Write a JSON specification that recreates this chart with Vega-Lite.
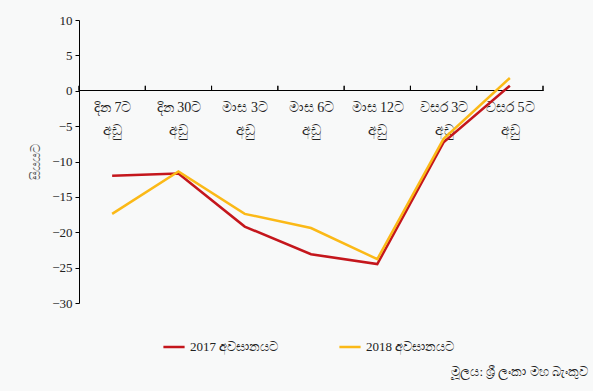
{
  "$schema": "https://vega.github.io/schema/vega-lite/v6.json",
  "width": 464,
  "height": 283,
  "autosize": {"type": "none"},
  "padding": {"left": 79, "top": 20, "right": 50, "bottom": 88},
  "background": "#f8f9f9",
  "config": {
    "view": {"stroke": null},
    "axisY": {
      "titleFont": "Liberation Serif",
      "titleFontSize": 13,
      "titleFontWeight": "normal",
      "titleColor": "#555555",
      "titlePadding": 9,
      "labelOverlap": false,
      "grid": false,
      "tickSize": 4,
      "tickColor": "#000000",
      "domainColor": "#000000",
      "labelFont": "Liberation Serif",
      "labelFontSize": 13,
      "labelColor": "#222222",
      "labelPadding": 3
    }
  },
  "data": {
    "values": [
      {"term": "දින 7ට අඩු", "series": "2017 අවසානයට", "value": -12.0},
      {"term": "දින 30ට අඩු", "series": "2017 අවසානයට", "value": -11.7},
      {"term": "මාස 3ට අඩු", "series": "2017 අවසානයට", "value": -19.2},
      {"term": "මාස 6ට අඩු", "series": "2017 අවසානයට", "value": -23.1},
      {"term": "මාස 12ට අඩු", "series": "2017 අවසානයට", "value": -24.5},
      {"term": "වසර 3ට අඩු", "series": "2017 අවසානයට", "value": -7.3},
      {"term": "වසර 5ට අඩු", "series": "2017 අවසානයට", "value": 0.7},
      {"term": "දින 7ට අඩු", "series": "2018 අවසානයට", "value": -17.4},
      {"term": "දින 30ට අඩු", "series": "2018 අවසානයට", "value": -11.4},
      {"term": "මාස 3ට අඩු", "series": "2018 අවසානයට", "value": -17.4},
      {"term": "මාස 6ට අඩු", "series": "2018 අවසානයට", "value": -19.4},
      {"term": "මාස 12ට අඩු", "series": "2018 අවසානයට", "value": -23.8},
      {"term": "වසර 3ට අඩු", "series": "2018 අවසානයට", "value": -6.8},
      {"term": "වසර 5ට අඩු", "series": "2018 අවසානයට", "value": 1.8}
    ]
  },
  "title": {
    "text": "මූලය: ශ්‍රී ලංකා මහ බැංකුව",
    "orient": "bottom",
    "anchor": "end",
    "frame": "group",
    "offset": 12,
    "dx": 45,
    "fontSize": 13,
    "fontWeight": "normal",
    "font": "Liberation Serif",
    "color": "#222222"
  },
  "encoding": {
    "x": {
      "field": "term",
      "type": "nominal",
      "sort": null,
      "scale": {"type": "band", "paddingInner": 0, "paddingOuter": 0},
      "axis": {
        "title": null,
        "offset": -213,
        "labelAngle": 0,
        "tickBand": "extent",
        "tickSize": 0,
        "domainColor": "#000000",
        "labelFont": "Liberation Serif",
        "labelFontSize": 14,
        "labelColor": "#222222",
        "labelPadding": 10,
        "labelLineHeight": 23,
        "labelExpr": "[slice(datum.label, 0, lastindexof(datum.label, ' ')), slice(datum.label, lastindexof(datum.label, ' ') + 1)]"
      }
    }
  },
  "layer": [
    {
      "mark": {"type": "line", "strokeWidth": 2.5},
      "encoding": {
        "x": {"field": "term", "type": "nominal", "sort": null, "bandPosition": 0.5},
        "y": {
          "field": "value",
          "type": "quantitative",
          "scale": {"domain": [-30, 10], "nice": false, "zero": false},
          "axis": {"title": "සියයට", "values": [-30, -25, -20, -15, -10, -5, 0, 5, 10]}
        },
        "color": {
          "field": "series",
          "type": "nominal",
          "scale": {"domain": ["2017 අවසානයට", "2018 අවසානයට"], "range": ["#c4161c", "#fbb917"]},
          "legend": {
            "title": null,
            "orient": "none",
            "legendX": 83,
            "legendY": 315,
            "direction": "horizontal",
            "symbolType": "stroke",
            "symbolStrokeWidth": 2.5,
            "symbolSize": 450,
            "columnPadding": 55,
            "labelFont": "Liberation Serif",
            "labelFontSize": 13,
            "labelColor": "#222222"
          }
        }
      }
    },
    {
      "mark": {"type": "rule", "color": "#000000", "strokeWidth": 1},
      "encoding": {
        "x": {"field": "term", "type": "nominal", "sort": null, "bandPosition": 0},
        "y": {
          "datum": 0,
          "type": "quantitative",
          "scale": {"domain": [-30, 10], "nice": false, "zero": false},
          "axis": {"title": "සියයට", "values": [-30, -25, -20, -15, -10, -5, 0, 5, 10]}
        },
        "y2": {"datum": 0.7}
      }
    },
    {
      "transform": [{"filter": "datum.term === 'වසර 5ට අඩු'"}],
      "mark": {"type": "rule", "color": "#000000", "strokeWidth": 1},
      "encoding": {
        "x": {"field": "term", "type": "nominal", "sort": null, "bandPosition": 1},
        "y": {
          "datum": 0,
          "type": "quantitative",
          "scale": {"domain": [-30, 10], "nice": false, "zero": false},
          "axis": {"title": "සියයට", "values": [-30, -25, -20, -15, -10, -5, 0, 5, 10]}
        },
        "y2": {"datum": 0.7}
      }
    }
  ]
}
